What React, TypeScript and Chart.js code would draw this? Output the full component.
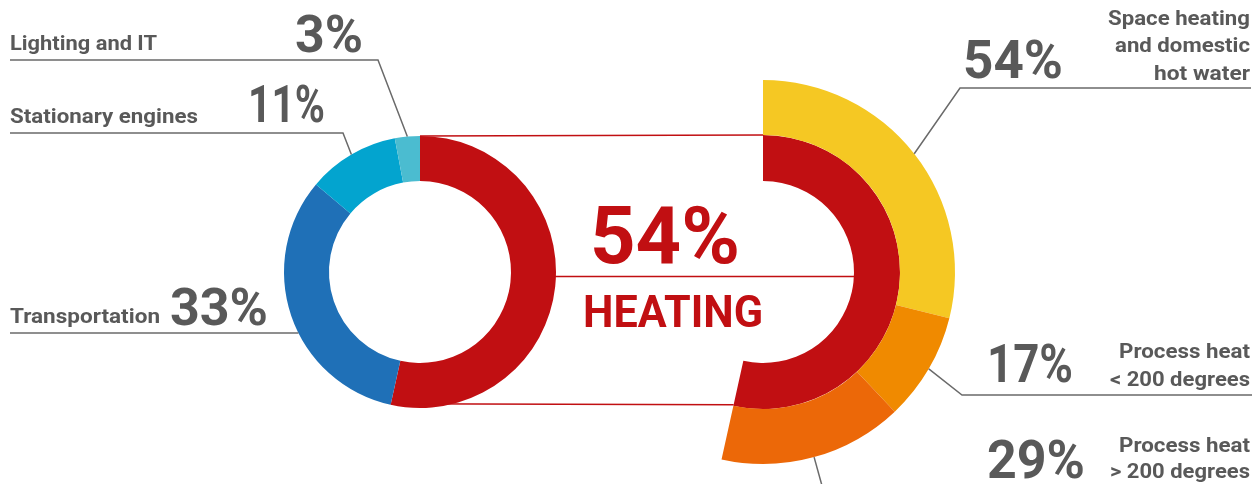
import React, { useEffect, useRef } from 'react';
import { Chart, registerables } from 'chart.js';

Chart.register(...registerables);

// ---- Data ----
const useCategories = ['Heating', 'Transportation', 'Stationary engines', 'Lighting and IT'];
const useShares = [54, 33, 11, 3];
const useColors = ['#C10F12', '#1F70B7', '#03A4CF', '#4BBCD0'];

const heatCategories = [
  'Space heating and domestic hot water',
  'Process heat < 200 degrees',
  'Process heat > 200 degrees',
];
const heatShares = [54, 17, 29];
const heatColors = ['#F5C823', '#F08A00', '#EC6808'];
const heatLabelLines = [
  ['Space heating', 'and domestic', 'hot water'],
  ['Process heat', '< 200 degrees'],
  ['Process heat', '> 200 degrees'],
];

const W = 1255;
const H = 484;
const GRAY = '#595959';
const LEADER = '#6a6a6a';
const RED = '#C10F12';
const FONT = 'Roboto';

function fitText(
  ctx: CanvasRenderingContext2D,
  text: string,
  left: number,
  right: number,
  baseline: number,
  size: number,
  color: string
) {
  ctx.font = `700 ${size}px ${FONT}`;
  const w = ctx.measureText(text).width;
  const sx = (right - left) / w;
  ctx.save();
  ctx.translate(left, baseline);
  ctx.scale(sx, 1);
  ctx.fillStyle = color;
  ctx.textAlign = 'left';
  ctx.textBaseline = 'alphabetic';
  ctx.fillText(text, 0, 0);
  ctx.restore();
}

function rightText(
  ctx: CanvasRenderingContext2D,
  text: string,
  left: number,
  right: number,
  baseline: number,
  size: number,
  color: string
) {
  fitText(ctx, text, left, right, baseline, size, color);
}

function polyline(ctx: CanvasRenderingContext2D, pts: { x: number; y: number }[], color: string, width: number) {
  ctx.save();
  ctx.strokeStyle = color;
  ctx.lineWidth = width;
  ctx.lineJoin = 'miter';
  ctx.beginPath();
  pts.forEach((p, i) => (i === 0 ? ctx.moveTo(p.x, p.y) : ctx.lineTo(p.x, p.y)));
  ctx.stroke();
  ctx.restore();
}

export default function App() {
  const leftRef = useRef<HTMLCanvasElement>(null);
  const rightRef = useRef<HTMLCanvasElement>(null);

  useEffect(() => {
    const total = useShares.reduce((a, b) => a + b, 0);
    const heat = useShares[0];
    const other = total - heat;

    const left = new Chart(leftRef.current as HTMLCanvasElement, {
      type: 'doughnut',
      data: {
        labels: useCategories,
        datasets: [
          {
            data: useShares,
            backgroundColor: useColors,
            borderWidth: 0,
            hoverBorderWidth: 0,
          },
        ],
      },
      options: {
        responsive: false,
        animation: false,
        events: [],
        cutout: 91,
        rotation: 0,
        layout: { padding: { left: 284, right: 699, top: 136, bottom: 76 } },
        plugins: { legend: { display: false }, tooltip: { enabled: false } },
      },
    });

    const pt = (arc: any, ang: number, r: number) => ({
      x: arc.x + Math.cos(ang) * r,
      y: arc.y + Math.sin(ang) * r,
    });
    const mid = (arc: any) => (arc.startAngle + arc.endAngle) / 2;

    const overlay = {
      id: 'overlay',
      afterDraw(chart: any) {
        const ctx: CanvasRenderingContext2D = chart.ctx;
        const L: any[] = left.getDatasetMeta(0).data as any[];
        const RO: any[] = chart.getDatasetMeta(0).data;
        const RI: any[] = chart.getDatasetMeta(1).data;
        const l0 = L[0];
        const r0 = RI[0];

        // red connectors
        polyline(ctx, [pt(l0, l0.startAngle, l0.outerRadius), pt(r0, r0.startAngle, r0.outerRadius)], RED, 1.4);
        polyline(ctx, [pt(l0, l0.endAngle, l0.outerRadius - 1), pt(r0, r0.endAngle, r0.outerRadius - 1)], RED, 1.4);
        const dy = 4.5;
        const mx1 = l0.x + Math.sqrt(l0.outerRadius ** 2 - dy ** 2);
        const mx2 = r0.x + Math.sqrt(r0.innerRadius ** 2 - dy ** 2);
        polyline(ctx, [{ x: mx1 - 1, y: l0.y + dy }, { x: mx2 + 1, y: l0.y + dy }], RED, 1.4);

        // centre text
        fitText(ctx, `${heat}%`, 590, 740, 263, 79, RED);
        fitText(ctx, useCategories[0].toUpperCase(), 583, 763, 327, 45, RED);

        // left leaders
        const lightA = pt(L[3], mid(L[3]), L[3].outerRadius);
        polyline(ctx, [{ x: 10, y: 60 }, { x: 378, y: 60 }, lightA], LEADER, 1.5);
        const statA = pt(L[2], mid(L[2]), L[2].outerRadius);
        polyline(ctx, [{ x: 10, y: 133 }, { x: 343, y: 133 }, statA], LEADER, 1.5);
        const ty = 333;
        const tx = L[1].x - Math.sqrt(L[1].outerRadius ** 2 - (ty - L[1].y) ** 2);
        polyline(ctx, [{ x: 10, y: ty }, { x: tx, y: ty }], LEADER, 1.5);

        // left labels
        fitText(ctx, useCategories[3], 10, 157, 50, 21, GRAY);
        fitText(ctx, `${useShares[3]}%`, 295, 363, 52, 52, GRAY);
        fitText(ctx, useCategories[2], 10, 198, 123, 21, GRAY);
        fitText(ctx, `${useShares[2]}%`, 248, 325, 122, 52, GRAY);
        fitText(ctx, useCategories[1], 10, 160, 323, 21, GRAY);
        fitText(ctx, `${useShares[1]}%`, 170, 268, 325, 52, GRAY);

        // right leaders
        const a0 = pt(RO[0], mid(RO[0]), RO[0].outerRadius);
        polyline(ctx, [{ x: 1251, y: 88 }, { x: 960, y: 88 }, a0], LEADER, 1.5);
        const a1 = pt(RO[1], mid(RO[1]), RO[1].outerRadius);
        polyline(ctx, [{ x: 1252, y: 395 }, { x: 962, y: 395 }, a1], LEADER, 1.5);
        const m2 = mid(RO[2]);
        const a2 = pt(RO[2], m2, RO[2].outerRadius);
        const a2b = pt(RO[2], m2, RO[2].outerRadius + 45);
        polyline(ctx, [a2, a2b], LEADER, 1.5);

        // right labels
        fitText(ctx, `${heatShares[0]}%`, 963, 1063, 78, 53, GRAY);
        const hl0 = heatLabelLines[0];
        rightText(ctx, hl0[0], 1108, 1250, 25, 21, GRAY);
        rightText(ctx, hl0[1], 1115, 1250, 52, 21, GRAY);
        rightText(ctx, hl0[2], 1154, 1250, 80, 21, GRAY);

        fitText(ctx, `${heatShares[1]}%`, 987, 1073, 382, 53, GRAY);
        const hl1 = heatLabelLines[1];
        rightText(ctx, hl1[0], 1119, 1250, 358, 21, GRAY);
        rightText(ctx, hl1[1], 1110, 1250, 386, 21, GRAY);

        fitText(ctx, `${heatShares[2]}%`, 987, 1085, 478, 53, GRAY);
        const hl2 = heatLabelLines[2];
        rightText(ctx, hl2[0], 1119, 1250, 452, 21, GRAY);
        rightText(ctx, hl2[1], 1110, 1250, 478, 21, GRAY);
      },
    };

    const right = new Chart(rightRef.current as HTMLCanvasElement, {
      type: 'doughnut',
      data: {
        labels: heatCategories,
        datasets: [
          {
            data: heatShares,
            backgroundColor: heatColors,
            borderWidth: 0,
            hoverBorderWidth: 0,
            weight: 55,
            circumference: (360 * heat) / total,
          } as any,
          {
            data: [heat, other],
            backgroundColor: [RED, 'rgba(0,0,0,0)'],
            borderWidth: 0,
            hoverBorderWidth: 0,
            weight: 46,
          } as any,
        ],
      },
      options: {
        responsive: false,
        animation: false,
        events: [],
        cutout: 91,
        rotation: 0,
        layout: { padding: { left: 571, right: 300, top: 80, bottom: 20 } },
        plugins: { legend: { display: false }, tooltip: { enabled: false } },
      },
      plugins: [overlay],
    });

    return () => {
      right.destroy();
      left.destroy();
    };
  }, []);

  const cs: React.CSSProperties = { position: 'absolute', left: 0, top: 0, width: W, height: H };
  return (
    <div style={{ position: 'absolute', left: 0, top: 0, width: W, height: H, background: '#fff' }}>
      <canvas ref={leftRef} width={W} height={H} style={cs} />
      <canvas ref={rightRef} width={W} height={H} style={cs} />
    </div>
  );
}
